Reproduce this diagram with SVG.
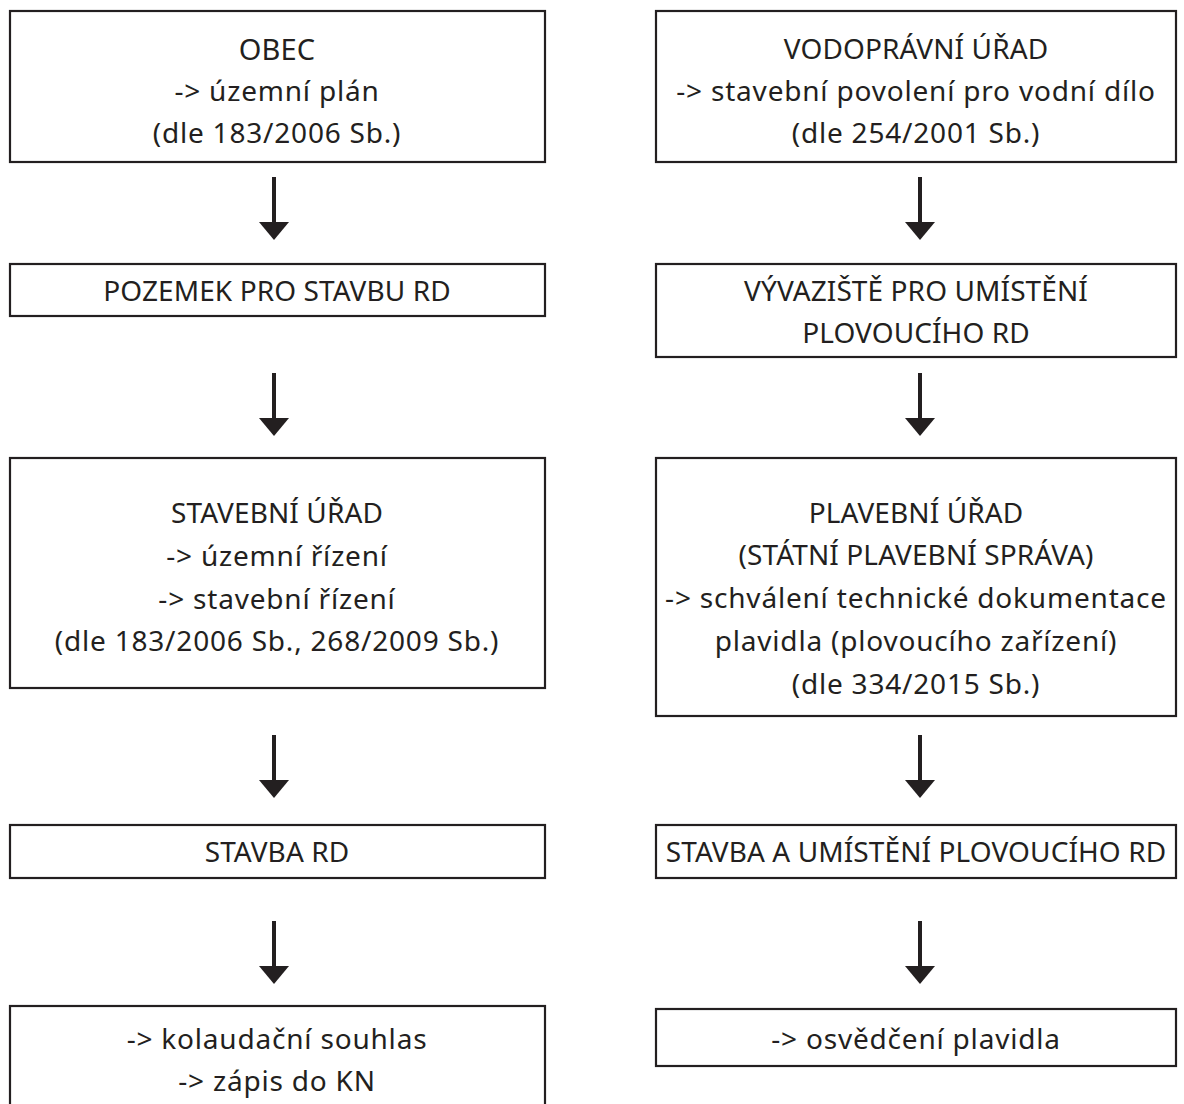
<svg xmlns="http://www.w3.org/2000/svg" width="1184" height="1104" viewBox="0 0 1184 1104">
<style>
.box{fill:#fff;stroke:#231f20;stroke-width:2.2}
.t{font-family:"Noto Sans","Open Sans",sans-serif;font-size:28px;letter-spacing:0.8px;fill:#231f20;text-anchor:middle;dominant-baseline:central}
.u{letter-spacing:0.1px}
.shaft{stroke:#231f20;stroke-width:4}
.head{fill:#231f20}
</style>
<defs>
<g id="arr"><line class="shaft" x1="0" y1="0" x2="0" y2="46"/><polygon class="head" points="-15,45 15,45 0,63"/></g>
</defs>
<rect width="1184" height="1104" fill="#fff"/>
<g id="connectors">
<use href="#arr" x="274" y="177"/>
<use href="#arr" x="274" y="373"/>
<use href="#arr" x="274" y="735"/>
<use href="#arr" x="274" y="921"/>
<use href="#arr" x="920" y="177"/>
<use href="#arr" x="920" y="373"/>
<use href="#arr" x="920" y="735"/>
<use href="#arr" x="920" y="921"/>
</g>
<g id="obec"><rect class="box" x="10" y="11" width="535" height="151"/>
<text class="t u" x="277" y="48" style="font-size:29px">OBEC</text><text class="t" x="277" y="90">-&gt; územní plán</text><text class="t" x="277" y="132">(dle 183/2006 Sb.)</text></g>
<g id="pozemek"><rect class="box" x="10" y="264" width="535" height="52"/>
<text class="t u" x="277" y="290">POZEMEK PRO STAVBU RD</text></g>
<g id="stavebni"><rect class="box" x="10" y="458" width="535" height="230"/>
<text class="t u" x="277" y="512">STAVEBNÍ ÚŘAD</text><text class="t" x="277" y="555">-&gt; územní řízení</text><text class="t" x="277" y="598">-&gt; stavební řízení</text><text class="t" x="277" y="640">(dle 183/2006 Sb., 268/2009 Sb.)</text></g>
<g id="stavbard"><rect class="box" x="10" y="825" width="535" height="53"/>
<text class="t u" x="277" y="851">STAVBA RD</text></g>
<g id="kolaudace"><rect class="box" x="10" y="1006" width="535" height="110"/>
<text class="t" x="277" y="1038">-&gt; kolaudační souhlas</text><text class="t" x="277" y="1080">-&gt; zápis do KN</text></g>
<g id="vodopravni"><rect class="box" x="656" y="11" width="520" height="151"/>
<text class="t u" x="916" y="48">VODOPRÁVNÍ ÚŘAD</text><text class="t" x="916" y="90">-&gt; stavební povolení pro vodní dílo</text><text class="t" x="916" y="132">(dle 254/2001 Sb.)</text></g>
<g id="vyvaziste"><rect class="box" x="656" y="264" width="520" height="93"/>
<text class="t u" x="916" y="290">VÝVAZIŠTĚ PRO UMÍSTĚNÍ</text><text class="t u" x="916" y="332">PLOVOUCÍHO RD</text></g>
<g id="plavebni"><rect class="box" x="656" y="458" width="520" height="258"/>
<text class="t u" x="916" y="512">PLAVEBNÍ ÚŘAD</text><text class="t u" x="916" y="554">(STÁTNÍ PLAVEBNÍ SPRÁVA)</text><text class="t" x="916" y="597">-&gt; schválení technické dokumentace</text><text class="t" x="916" y="640">plavidla (plovoucího zařízení)</text><text class="t" x="916" y="683">(dle 334/2015 Sb.)</text></g>
<g id="stavbaplov"><rect class="box" x="656" y="825" width="520" height="53"/>
<text class="t u" x="916" y="851">STAVBA A UMÍSTĚNÍ PLOVOUCÍHO RD</text></g>
<g id="osvedceni"><rect class="box" x="656" y="1009" width="520" height="57"/>
<text class="t" x="916" y="1038">-&gt; osvědčení plavidla</text></g>
</svg>
